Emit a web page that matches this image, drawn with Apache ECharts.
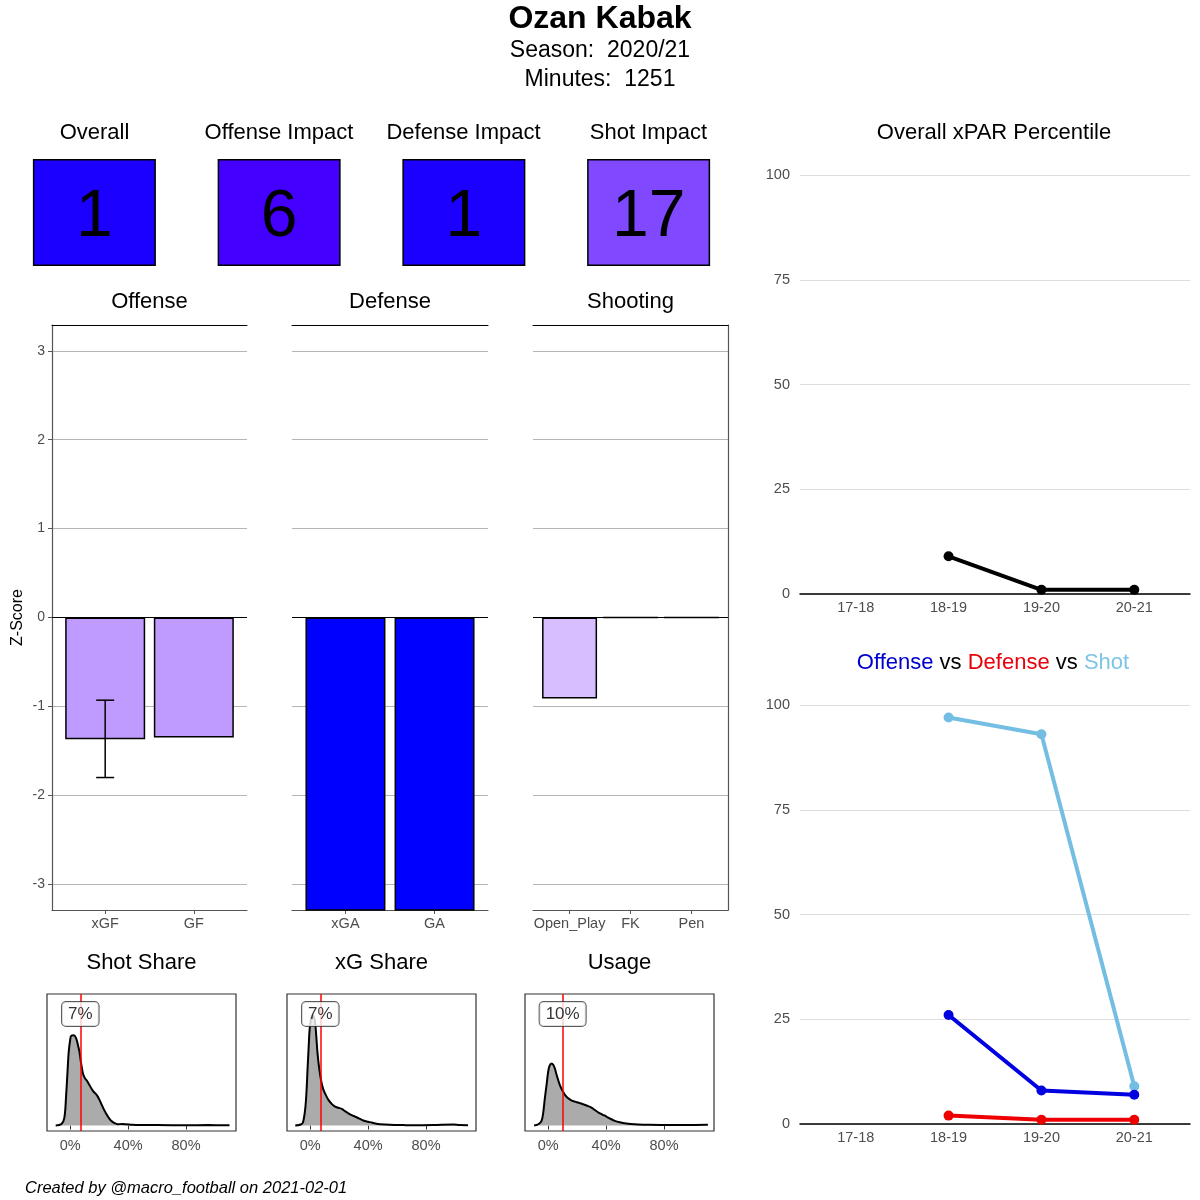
<!DOCTYPE html>
<html><head><meta charset="utf-8">
<script src="https://cdn.jsdelivr.net/npm/echarts@6/dist/echarts.min.js"></script>
<style>html,body{margin:0;padding:0;background:#fff}#c{width:1200px;height:1200px}</style>
</head><body><div id="c"></div>
<script>
const FONT = '"Liberation Sans", Arial, Helvetica, sans-serif';
const GREY = '#4d4d4d';

// ---------- data ----------
const playerName = 'Ozan Kabak';
const seasonLabel = 'Season:  2020/21';
const minutesLabel = 'Minutes:  1251';
const footer = 'Created by @macro_football on 2021-02-01';

const tileNames = ['Overall', 'Offense Impact', 'Defense Impact', 'Shot Impact'];
const tileValues = [1, 6, 1, 17];
const tileColors = ['#1c00ff', '#4400ff', '#1c00ff', '#8048ff'];

const zTicks = [-3, -2, -1, 0, 1, 2, 3];
const offenseCats = ['xGF', 'GF'];
const offenseValues = [-1.37, -1.35];
const xgfError = [-1.80, -0.93];
const defenseCats = ['xGA', 'GA'];
const defenseValues = [-3.6, -3.6];
const shootingCats = ['Open_Play', 'FK', 'Pen'];
const shootingValues = [-0.91, 0, 0];

const seasons = ['17-18', '18-19', '19-20', '20-21'];
const pctTicks = [0, 25, 50, 75, 100];
const xparPct = [null, 9, 1, 1];
const offensePct = [null, 26, 8, 7];
const defensePct = [null, 2, 1, 1];
const shotPct = [null, 97, 93, 9];

const shareTicks = [0, 40, 80];
const shotShareValue = 7;
const xgShareValue = 7;
const usageValue = 10;
const shotShareDensity = [[-10,0],[-6,1.5],[-4,8],[-2.8,30],[-1.8,55],[-1,74],[0,86],[0.7,90],[2.5,90.5],[4,88],[5,83],[6.4,74],[7.5,63],[8.7,53],[10,48],[12,44],[15.6,35],[18.4,30.5],[20,26.5],[21.4,22],[23,17],[24.8,12],[26.5,8],[28.3,4.7],[30.5,2.5],[32.8,1.3],[36,1.5],[38.6,1.3],[43,0.8],[47.8,0.5],[60,0.4],[80,0.3],[95,0.4],[110,0.3]];
const xgShareDensity = [[-10.3,0],[-6.5,1],[-5,3],[-3.4,17],[-2.5,35],[-1.8,57],[-1,80],[-0.5,94],[0.3,105],[1.2,110],[2.2,110],[3.4,103],[4.2,90],[5,74],[6,60],[6.9,50.7],[8,42],[9.2,35.7],[11,30],[12.6,25.7],[15,21.5],[17.2,19],[19.5,17.8],[21.8,16.7],[24,14.5],[26.4,12.3],[28.7,10.5],[31,9],[34,7],[36.8,5],[40,3.8],[42.5,3],[45,2],[48.3,1.3],[55,0.7],[65,0.4],[71,0.3],[85,0.5],[98.9,1],[103,0.5],[109,0.3]];
const usageDensity = [[-9.7,0],[-6.5,1.5],[-4.6,4.7],[-3.5,12],[-2.3,27.3],[-1,42],[0,54],[1,60],[2.3,62.3],[3.5,61],[4.6,57.3],[5.8,51],[6.9,45.7],[8.5,39],[10.3,34],[12,30],[13.8,27.3],[16,25.2],[18.4,24],[21,22.8],[24.1,21.3],[27,19.8],[29.9,18],[32,15.8],[34.5,13.3],[37.5,11],[40.2,9],[43,6.8],[46,4.7],[49.5,3.2],[52.9,2.3],[57,1.5],[62.1,1],[70,0.7],[82.8,0.5],[95,0.5],[110.3,0.7]];

// ---------- build ----------
const grids = [], xAxes = [], yAxes = [], series = [], graphics = [];
const addGrid = g => (grids.push(Object.assign({containLabel: false}, g)), grids.length - 1);
const addX = a => (xAxes.push(a), xAxes.length - 1);
const addY = a => (yAxes.push(a), yAxes.length - 1);
function txt(text, x, y, size, opts) {
  opts = opts || {};
  graphics.push({type: 'text', x: x, y: y, silent: true, style: Object.assign({
    text: text, fill: '#000', fontSize: size, fontFamily: FONT,
    fontWeight: opts.bold ? 'bold' : 'normal', fontStyle: opts.italic ? 'italic' : 'normal',
    textAlign: opts.align || 'center', textVerticalAlign: 'middle',
    align: opts.align || 'center', verticalAlign: 'middle'
  }, opts.style || {})});
}

// header
txt(playerName, 600, 19, 32, {bold: true});
txt(seasonLabel, 600, 51, 23);
txt(minutesLabel, 600, 80, 23);

// tiles
(function () {
  const gi = addGrid({left: 2, top: 159, width: 739, height: 107});
  const xi = addX({type: 'category', gridIndex: gi, data: tileNames, show: false, boundaryGap: true});
  const yi = addY({type: 'value', gridIndex: gi, min: 0, max: 1, show: false});
  series.push({type: 'bar', xAxisIndex: xi, yAxisIndex: yi, barWidth: 123, silent: true,
    data: tileValues.map((v, i) => ({value: 1, itemStyle: {color: tileColors[i]}})),
    itemStyle: {borderColor: '#000', borderWidth: 1.5},
    label: {show: true, position: 'inside', offset: [0, 5], formatter: p => String(tileValues[p.dataIndex]),
      color: '#000', fontSize: 66, fontFamily: FONT, textBorderWidth: 0}});
  const centers = [94.5, 279, 463.5, 648.5];
  tileNames.forEach((n, i) => txt(n, centers[i], 133, 22));
})();

// bar panels
function barPanel(o) {
  const gi = addGrid({left: o.left, top: 325, width: o.width, height: 585});
  const n = o.cats.length;
  const pos = o.cats.map((c, i) => i + 1);
  const xi = addX({type: 'value', gridIndex: gi, min: 0.4, max: n + 0.6, position: 'bottom',
    axisLine: {show: true, onZero: false, lineStyle: {color: '#555', width: 1.2}},
    axisTick: {show: true, length: 4, customValues: pos, lineStyle: {color: '#555'}},
    axisLabel: {show: true, customValues: pos, formatter: v => o.cats[Math.round(v) - 1],
      color: GREY, fontSize: 14.5, fontFamily: FONT, margin: 6},
    splitLine: {show: false}});
  addX({type: 'value', gridIndex: gi, min: 0.4, max: n + 0.6, position: 'top',
    axisLine: {show: true, onZero: false, lineStyle: {color: '#000', width: 1}},
    axisTick: {show: false}, axisLabel: {show: false}, splitLine: {show: false}});
  const yi = addY({type: 'value', gridIndex: gi, min: -3.29, max: 3.29, position: 'left',
    axisLine: {show: !!o.showLeft, onZero: false, lineStyle: {color: '#555', width: 1.2}},
    axisTick: {show: !!o.showLeft, length: 4, customValues: zTicks, lineStyle: {color: '#555'}},
    axisLabel: {show: !!o.showLeft, customValues: zTicks, color: GREY, fontSize: 14, fontFamily: FONT, margin: 7},
    splitLine: {show: true, lineStyle: {color: '#b5b5b5', width: 1}},
    name: o.showLeft ? 'Z-Score' : '', nameLocation: 'middle', nameGap: 26, nameRotate: 90,
    nameTextStyle: {color: '#000', fontSize: 16, fontFamily: FONT}});
  if (o.showRight) addY({type: 'value', gridIndex: gi, min: -3.29, max: 3.29, position: 'right',
    axisLine: {show: true, onZero: false, lineStyle: {color: '#555', width: 1.2}},
    axisTick: {show: false}, axisLabel: {show: false}, splitLine: {show: false}});
  series.push({type: 'bar', xAxisIndex: xi, yAxisIndex: yi, barWidth: o.barWidth, silent: true,
    data: o.values.map((v, i) => [i + 1, v]),
    itemStyle: {color: o.color, borderColor: '#000', borderWidth: 1.5},
    markLine: {silent: true, symbol: 'none', label: {show: false}, z: 6,
      lineStyle: {color: '#000', width: 1.2, type: 'solid'}, data: [{yAxis: 0}]}});
  txt(o.title, o.left + o.width / 2, 302, 22);
  return {xi: xi, yi: yi};
}
const off = barPanel({title: 'Offense', left: 52, width: 195, cats: offenseCats, values: offenseValues, barWidth: 80, color: '#c09bff', showLeft: true});
barPanel({title: 'Defense', left: 292, width: 196, cats: defenseCats, values: defenseValues, barWidth: 80, color: '#0000ff'});
barPanel({title: 'Shooting', left: 533, width: 195, cats: shootingCats, values: shootingValues, barWidth: 55, color: '#d7bfff', showRight: true});

series.push({type: 'custom', xAxisIndex: off.xi, yAxisIndex: off.yi, z: 8, silent: true,
  data: [[1, xgfError[0], xgfError[1]]],
  renderItem: function (params, api) {
    const x = api.value(0);
    const lo = api.coord([x, api.value(1)]);
    const hi = api.coord([x, api.value(2)]);
    const w = 9, st = {stroke: '#000', lineWidth: 1.5};
    return {type: 'group', children: [
      {type: 'line', shape: {x1: lo[0], y1: lo[1], x2: hi[0], y2: hi[1]}, style: st},
      {type: 'line', shape: {x1: lo[0] - w, y1: lo[1], x2: lo[0] + w, y2: lo[1]}, style: st},
      {type: 'line', shape: {x1: hi[0] - w, y1: hi[1], x2: hi[0] + w, y2: hi[1]}, style: st}
    ]};
  }});

// density panels
const labelY = 112;
function densityPanel(o) {
  const gi = addGrid({left: o.left, top: 994, width: 189, height: 137, show: true, borderColor: '#333', borderWidth: 1.2});
  const xi = addX({type: 'value', gridIndex: gi, min: -16, max: 114.5,
    axisLine: {show: false},
    axisTick: {show: true, length: 4, customValues: shareTicks, lineStyle: {color: '#333'}},
    axisLabel: {show: true, customValues: shareTicks, formatter: v => v + '%', color: GREY, fontSize: 14.5, fontFamily: FONT, margin: 7},
    splitLine: {show: false}});
  const yi = addY({type: 'value', gridIndex: gi, min: -5.5, max: 132, show: false});
  series.push({type: 'line', xAxisIndex: xi, yAxisIndex: yi, data: o.density, smooth: 0.35, symbol: 'none', silent: true,
    lineStyle: {color: '#000', width: 2}, areaStyle: {color: '#ababab', opacity: 1},
    markLine: {silent: true, symbol: 'none', label: {show: false}, animation: false,
      lineStyle: {color: '#ff0000', width: 1.5, type: 'solid'}, data: [{xAxis: o.value}]}});
  series.push({type: 'scatter', xAxisIndex: xi, yAxisIndex: yi, z: 10, silent: true, symbolSize: 1,
    itemStyle: {color: 'rgba(0,0,0,0)'},
    data: [[o.value, labelY]],
    label: {show: true, position: 'inside', formatter: o.value + '%', color: '#000', fontSize: 17, fontFamily: FONT,
      backgroundColor: '#fff', borderColor: '#333', borderWidth: 1, borderRadius: 4, padding: [4, 6, 3, 6]}});
  txt(o.title, o.left + 189 / 2, 963, 22);
}
densityPanel({title: 'Shot Share', left: 47, density: shotShareDensity, value: shotShareValue});
densityPanel({title: 'xG Share', left: 287, density: xgShareDensity, value: xgShareValue});
densityPanel({title: 'Usage', left: 525, density: usageDensity, value: usageValue});

// percentile charts
function pctChart(top, list) {
  const gi = addGrid({left: 800, top: top, width: 390, height: 419});
  const pos = seasons.map((s, i) => i + 1);
  const xi = addX({type: 'value', gridIndex: gi, min: 0.4, max: seasons.length + 0.6,
    axisLine: {show: true, onZero: false, lineStyle: {color: '#000', width: 1.5}},
    axisTick: {show: false, customValues: pos},
    axisLabel: {show: true, customValues: pos, formatter: v => seasons[Math.round(v) - 1], color: GREY, fontSize: 14.5, fontFamily: FONT, margin: 6},
    splitLine: {show: false}});
  const yi = addY({type: 'value', gridIndex: gi, min: 0, max: 100, interval: 25,
    axisLine: {show: false}, axisTick: {show: false},
    axisLabel: {color: GREY, fontSize: 14.5, fontFamily: FONT, margin: 10},
    splitLine: {show: true, lineStyle: {color: '#dedede', width: 1}}});
  list.forEach(s => series.push({type: 'line', xAxisIndex: xi, yAxisIndex: yi, silent: true,
    data: s.values.map((v, i) => v == null ? null : [i + 1, v]).filter(Boolean),
    symbol: 'circle', symbolSize: 10, showSymbol: true,
    lineStyle: {color: s.color, width: 4}, itemStyle: {color: s.color}}));
}
pctChart(175, [{values: xparPct, color: '#000'}]);
pctChart(705, [{values: shotPct, color: '#74bee3'}, {values: offensePct, color: '#0000e0'}, {values: defensePct, color: '#ee0000'}]);

txt('Overall xPAR Percentile', 994, 133, 22);
txt('{o|Offense} vs {d|Defense} vs {s|Shot}', 993, 663, 22, {style: {rich: {
  o: {fill: '#0000cc', fontSize: 22, fontFamily: FONT},
  d: {fill: '#e8000b', fontSize: 22, fontFamily: FONT},
  s: {fill: '#7ec4e8', fontSize: 22, fontFamily: FONT}
}}});
txt(footer, 25, 1188, 16.5, {italic: true, align: 'left'});

const chart = echarts.init(document.getElementById('c'), null, {width: 1200, height: 1200});
chart.setOption({
  animation: false,
  backgroundColor: '#fff',
  grid: grids, xAxis: xAxes, yAxis: yAxes, series: series,
  graphic: {elements: graphics}
});
</script></body></html>
